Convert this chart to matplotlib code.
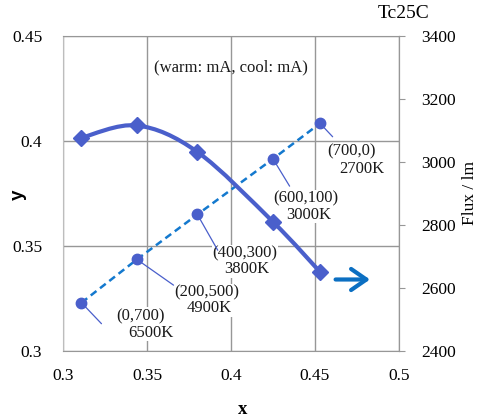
import numpy as np
import matplotlib
matplotlib.use('Agg')
import matplotlib.pyplot as plt
from matplotlib.path import Path
from matplotlib.patches import PathPatch
from matplotlib.ticker import FuncFormatter

plt.rcParams['font.family'] = ['Liberation Serif', 'DejaVu Serif']

# chromaticity (x, y) at each drive setting
cie_x = [0.311, 0.344, 0.380, 0.425, 0.453]
cie_y = [0.323, 0.3436, 0.365, 0.3915, 0.4084]
# luminous flux (lm) at the same settings
flux = [3077, 3116, 3032, 2810, 2651]
currents = ['(0,700)', '(200,500)', '(400,300)', '(600,100)', '(700,0)']
cct = ['6500K', '4900K', '3800K', '3000K', '2700K']

x_ticks = [0.3, 0.35, 0.4, 0.45, 0.5]
y_ticks = [0.3, 0.35, 0.4, 0.45]
flux_ticks = [2400, 2600, 2800, 3000, 3200, 3400]

mark_col = '#4A5FCB'
dash_col = '#1479CE'
arrow_col = '#0B6FC2'
grid_col = '#979797'

fig = plt.figure(figsize=(4.82, 4.2), dpi=100)
ax = fig.add_axes([63/482, 1-351/420, 336/482, 315/420])
ax2 = ax.twinx()

ax.set_xlim(0.3, 0.5)
ax.set_ylim(0.3, 0.45)
ax2.set_ylim(2400, 3400)
ax.set_xticks(x_ticks)
ax.set_yticks(y_ticks)
ax2.set_yticks(flux_ticks)
fmt = FuncFormatter(lambda v, p: '%g' % round(v, 3))
ax.xaxis.set_major_formatter(fmt)
ax.yaxis.set_major_formatter(fmt)

ax.grid(True, color=grid_col, lw=1.0)
ax.set_axisbelow(True)
for s in ['top', 'right', 'bottom']:
    ax.spines[s].set_color(grid_col)
ax.spines['left'].set_color('#BDBDBD')
for s in ax2.spines.values():
    s.set_visible(False)
ax2.spines['right'].set_visible(True)
ax2.spines['right'].set_color(grid_col)

ax.tick_params(axis='both', length=0, labelsize=12.5)
ax.tick_params(axis='y', pad=15)
ax.tick_params(axis='x', pad=12)
ax2.tick_params(axis='y', length=4, color=grid_col, labelsize=12.5, pad=12)

# chromaticity points, dashed
ax.plot(cie_x, cie_y, ls=(0, (2.9, 1.8)), color=dash_col, lw=1.8, zorder=3)

# flux: smoothed line like excel
P = np.column_stack([cie_x, flux]).astype(float)
n = len(P)
verts = [P[0]]
codes = [Path.MOVETO]
for i in range(n - 1):
    p0 = P[max(i - 1, 0)]
    p3 = P[min(i + 2, n - 1)]
    c1 = P[i] + (P[i + 1] - p0) / 6
    c2 = P[i + 1] - (p3 - P[i]) / 6
    verts += [c1, c2, P[i + 1]]
    codes += [Path.CURVE4] * 3
ax2.add_patch(PathPatch(Path(verts, codes), fill=False, ec=mark_col, lw=3.0, zorder=3))
ax2.plot(cie_x, flux, ls='none', marker='D', ms=8, color=mark_col, zorder=4)

# labels with leader lines (offsets in pixels)
lead_end = [(20, -21), (36.6, -25.7), (20.3, -35.7), (16.6, -27.3), (12.6, -13.4)]
line1_off = [(59, -13.3), (70.3, -33), (47.5, -39), (33.1, -40), (31.8, -28.4)]
line2_off = [(69, -30), (72.3, -49), (49.5, -55), (35.6, -55.8), (41.5, -46)]
box = dict(fc='white', ec='none', pad=0.5)
for i in range(n):
    xy = (cie_x[i], cie_y[i])
    ax.annotate('', xy=xy, xytext=lead_end[i], textcoords='offset pixels',
                arrowprops=dict(arrowstyle='-', color=mark_col, lw=0.9,
                                shrinkA=0, shrinkB=0), zorder=3)
    ax.annotate(currents[i], xy=xy, xytext=line1_off[i], textcoords='offset pixels',
                ha='center', va='center', fontsize=12, color='#1a1a1a', bbox=box, zorder=2)
    ax.annotate(cct[i], xy=xy, xytext=line2_off[i], textcoords='offset pixels',
                ha='center', va='center', fontsize=12, color='#1a1a1a', bbox=box, zorder=2)
ax.plot(cie_x, cie_y, ls='none', marker='o', ms=7.5, color=mark_col, zorder=5)

# arrow pointing to the right axis
ax.annotate('', xy=(0.922, 0.227), xytext=(0.803, 0.227), xycoords='axes fraction',
            arrowprops=dict(arrowstyle='->,head_length=0.55,head_width=0.38',
                            color=arrow_col, lw=3.0, mutation_scale=20))

ax.text(0.5, 0.9, '(warm: mA, cool: mA)', transform=ax.transAxes,
        ha='center', va='center', fontsize=12, color='#1a1a1a')
fig.text(404/482, 1-13/420, 'Tc25C', ha='center', va='center', fontsize=14)
fig.text(470/482, 1-193/420, 'Flux / lm', rotation=90, ha='center', va='center', fontsize=12.5)
fig.text(18/482, 1-195/420, 'y', rotation=90, ha='center', va='center',
         fontsize=13.5, fontweight='bold', family='Liberation Sans')
fig.text(243/482, 1-410/420, 'x', ha='center', va='center', fontsize=13.5, fontweight='bold')

fig.savefig('out.png', dpi=100)
